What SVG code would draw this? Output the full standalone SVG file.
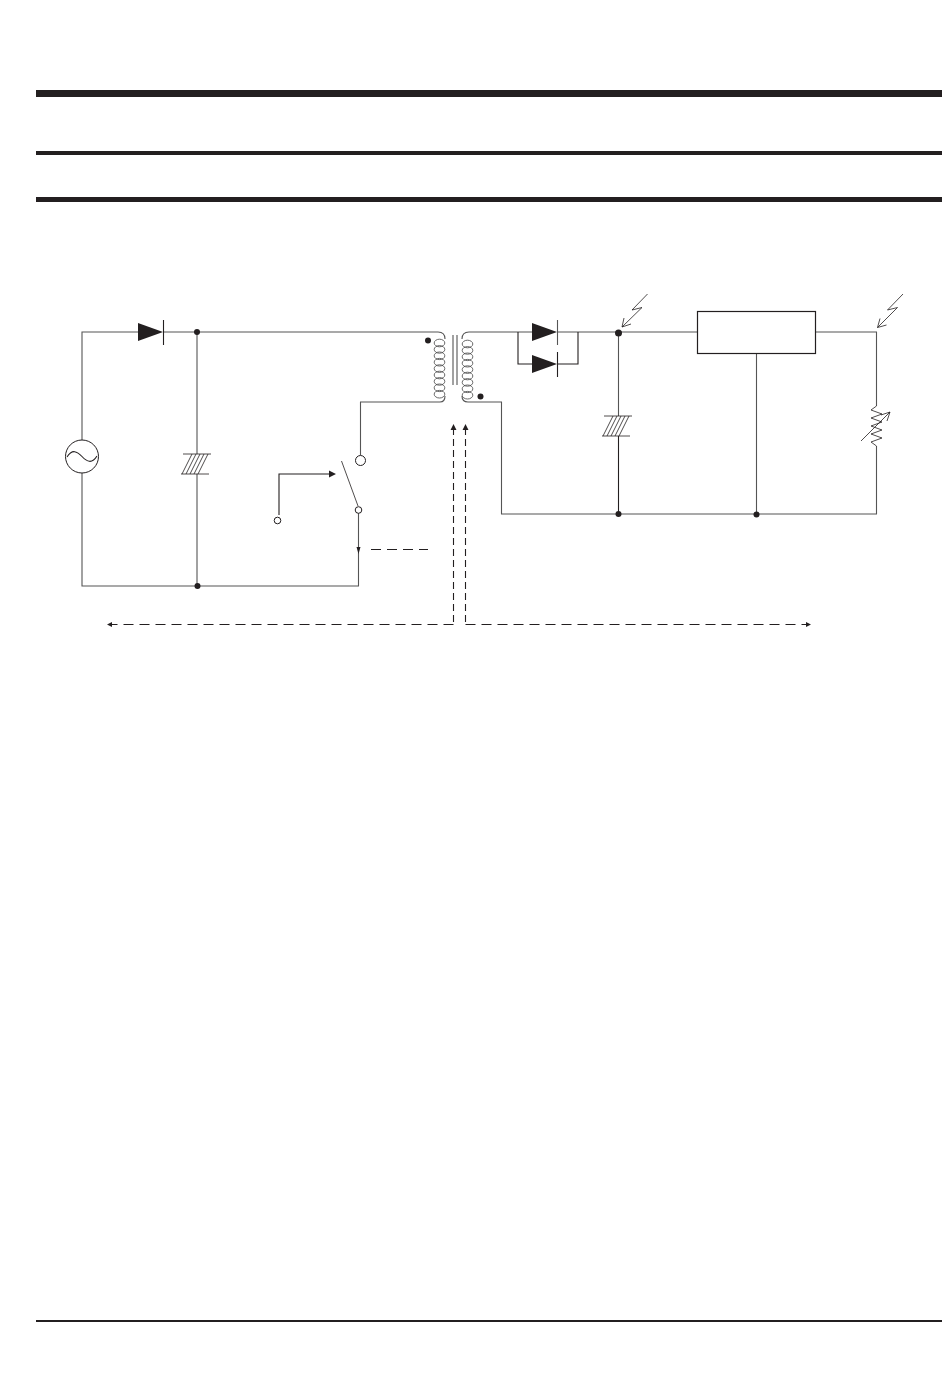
<svg xmlns="http://www.w3.org/2000/svg" xmlns:xlink="http://www.w3.org/1999/xlink" width="950" height="1388" viewBox="0 0 950 1388">
<style>
.w{fill:none;stroke:#555;stroke-width:1.1}
.k{fill:none;stroke:#231f20;stroke-width:1.1}
.t{fill:none;stroke:#231f20;stroke-width:.8}
.d{fill:none;stroke:#231f20;stroke-width:1.1;stroke-dasharray:10 6}
.v{fill:none;stroke:#231f20;stroke-width:1.1;stroke-dasharray:7 4}
.f{fill:#231f20;stroke:none}
.o{fill:#fff;stroke:#231f20;stroke-width:1}
.c{fill:none;stroke:#444;stroke-width:.8}
</style>
<defs>
<g id="hatch"><path class="t" d="M-14-10H14M-16 10H12M-5-10L-15 10M-1-10L-11 10M3-10L-7 10M7-10L-3 10M11-10L1 10"/></g>
<g id="coil"><ellipse class="c" cx="0" cy="0" rx="5.300" ry="3.800"/><ellipse class="c" cx="0" cy="6.400" rx="5.300" ry="3.800"/><ellipse class="c" cx="0" cy="12.800" rx="5.300" ry="3.800"/><ellipse class="c" cx="0" cy="19.200" rx="5.300" ry="3.800"/><ellipse class="c" cx="0" cy="25.600" rx="5.300" ry="3.800"/><ellipse class="c" cx="0" cy="32" rx="5.300" ry="3.800"/><ellipse class="c" cx="0" cy="38.400" rx="5.300" ry="3.800"/><ellipse class="c" cx="0" cy="44.800" rx="5.300" ry="3.800"/><ellipse class="c" cx="0" cy="51.200" rx="5.300" ry="3.800"/></g>
</defs>
<g id="rules">
<rect class="f" x="36" y="90" width="906" height="7"/>
<rect class="f" x="36" y="151" width="906" height="4"/>
<rect class="f" x="36" y="197" width="906" height="5"/>
<rect class="f" x="36" y="1320" width="906" height="2"/>
</g>
<g id="connectors">
<path class="w" d="M82 440V332H138M163 332H438Q445 332 445 339"/>
<path class="w" d="M82 473V586H358.500V513"/>
<path class="w" d="M197 332V454M197 474V586"/>
<path class="w" d="M360.500 455V402H440Q445 402 445 396"/>
<path class="w" d="M462 339Q462 332 469 332H532M557 332H697"/>
<path class="k" d="M518 332V364H532M557 364H578V332"/>
<path class="w" d="M462 396Q462 402 468 402H501.500V514H876.500V446M876.500 406V332H816"/>
<path class="w" d="M618.500 332V416M756.500 353V514"/>
<path class="k" d="M618.500 436V514"/>
<path class="k" d="M279 515V474H333"/>
<path class="d" d="M371 549.500H428"/>
<path class="v" d="M453.500 428V624"/>
<path class="v" d="M465.500 428V624"/>
<path class="d" d="M453.500 624.500H110"/>
<path class="d" d="M465.500 624.500H807"/>
<path class="f" d="M107 624.500L112 622V627ZM811 624.500L806 622V627ZM453.500 424L450.500 430H456.500ZM465.500 424L462.500 430H468.500ZM336 474L329 470.500V477.500ZM358.500 554L356.500 547H360.500Z"/>
</g>
<g id="source"><circle class="o" cx="82" cy="456.500" r="16.500"/><path class="k" d="M67 457C72 449 77 451 82 456.500S92 464 97 456"/></g>
<g id="d1"><path class="f" d="M138 323V341L163 332Z"/><path class="k" d="M163.500 320V345"/></g>
<g id="j1"><circle class="f" cx="197" cy="332" r="3"/></g>
<g id="j2"><circle class="f" cx="197.500" cy="586" r="3"/></g>
<g id="c1"><use xlink:href="#hatch" x="197" y="464"/></g>
<g id="transformer">
<use xlink:href="#coil" x="439.500" y="343"/><use xlink:href="#coil" x="467.500" y="344"/>
<path class="w" d="M453 335V385M457 335V385"/>
<circle class="f" cx="428" cy="340.500" r="3"/><circle class="f" cx="480.500" cy="396.500" r="3"/>
</g>
<g id="d2"><path class="f" d="M532 323V341L557 332Z"/><path class="w" d="M557.500 320V345"/></g>
<g id="d3"><path class="f" d="M532 355V373L557 364Z"/><path class="k" d="M557.500 352V377"/></g>
<g id="j3"><circle class="f" cx="618.500" cy="333" r="3.500"/></g>
<g id="j4"><circle class="f" cx="618.500" cy="514" r="3"/></g>
<g id="j5"><circle class="f" cx="756.500" cy="514.500" r="3"/></g>
<g id="c2"><use xlink:href="#hatch" x="618" y="426"/></g>
<g id="bolt1"><path class="t" d="M647.500 294L632 310L642 307.500L622 327M622 327L624 318M622 327L631 324"/></g>
<g id="bolt2"><path class="t" d="M903 294L887.500 310L897.500 307.500L877.500 327.500M877.500 327.500L880 318.500M877.500 327.500L886.500 325"/></g>
<g id="regulator"><rect x="697.500" y="311.500" width="118" height="42" fill="#fff" stroke="#231f20" stroke-width="1.200"/></g>
<g id="resistor"><path class="t" d="M876.500 406L871 410L882 414L871 418L882 422L871 426L882 430L871 434L882 438L871 442L876.500 446"/><path class="t" d="M861 441L890 412M890 412L881 415M890 412L887 421"/></g>
<g id="switch"><circle class="o" cx="360.500" cy="460.500" r="5"/><path class="t" d="M341.500 461L358 506"/><circle class="o" cx="358.500" cy="510" r="3.300"/><circle class="o" cx="277.500" cy="520.500" r="3.300"/></g>
</svg>
